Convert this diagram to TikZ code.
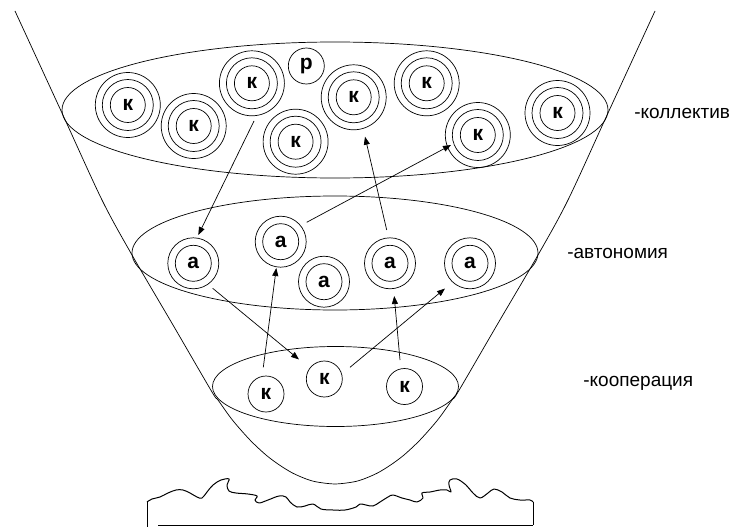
\documentclass[tikz,border=0pt]{standalone}
\usepackage{fontspec}
\setmainfont{Liberation Sans}
\usetikzlibrary{arrows.meta}
\begin{document}
\begin{tikzpicture}[x=1pt,y=-1pt,line width=0.7pt,
  ring/.style={draw,line width=0.7pt},
  kc/.style={circle,draw,line width=0.7pt,minimum size=35pt,inner sep=0pt,font=\fontsize{21}{21}\selectfont\bfseries},
  ac/.style={kc,minimum size=36pt},
  bc/.style={kc,minimum size=36pt},
  pc/.style={kc,minimum size=36pt},
  arr/.style={-{Triangle[length=8pt,width=6pt]},line width=0.7pt},
  lbl/.style={anchor=west,inner sep=0pt,font=\fontsize{19}{19}\selectfont}]
\useasboundingbox (0,0) rectangle (733,527);
% funnel
\draw plot[smooth,tension=0.5] coordinates {(15,11) (62,113) (102,200) (132,255) (173,325) (212,392) (218,400) (232.4,420) (250,440) (266,455) (279.4,465) (292.5,473) (306.3,479) (317,482) (335,484) (353,482) (363.7,479) (377.5,473) (390.6,465) (404,455) (420,440) (437.6,420) (452,400) (458,392) (497,325) (538,255) (568,200) (608,113) (655,11)};
% levels
\draw (335,110) ellipse [x radius=273pt, y radius=68pt];
\draw (335,253) ellipse [x radius=203pt, y radius=57pt];
\draw (335.5,386.5) ellipse [x radius=123pt, y radius=40pt];
% top circles
\node[kc] (k1) at (127.8,105) {к};
\node[kc] (k2) at (193.7,126) {к};
\node[kc] (k3) at (251.9,83.3) {к};
\node[pc] (p) at (306.3,66) {р};
\node[kc] (k4) at (295.6,141.7) {к};
\node[kc] (k5) at (353.7,97.3) {к};
\node[kc] (k6) at (426.7,83.3) {к};
\node[kc] (k7) at (477.8,135) {к};
\node[kc] (k8) at (557.5,113) {к};
\foreach \n in {k1,k2,k3,k4,k5,k6,k7,k8}{
  \draw[ring] (\n) circle [radius=25.5pt];
  \draw[ring] (\n) circle [radius=32.5pt];
}
% middle circles
\node[ac] (a1) at (193.3,263.3) {а};
\node[ac] (a2) at (280.7,241.7) {а};
\node[ac] (a3) at (324,281.7) {а};
\node[ac] (a4) at (390,263.3) {а};
\node[ac] (a5) at (470,263.3) {а};
\foreach \n in {a1,a2,a3,a4,a5}{
  \draw[ring] (\n) circle [radius=25.5pt];
}
% bottom circles
\node[bc] (b1) at (266,394) {к};
\node[bc] (b2) at (324.3,379) {к};
\node[bc] (b3) at (404.5,386.5) {к};
% arrows
\coordinate (s1) at (254,121); \coordinate (t1) at (198.3,235);
\coordinate (s2) at (306.7,222.3); \coordinate (t2) at (451,145);
\coordinate (s3) at (386.7,230); \coordinate (t3) at (365,136.7);
\coordinate (s4) at (212.7,288.3); \coordinate (t4) at (299,359.5);
\coordinate (s5) at (263.3,367.3); \coordinate (t5) at (276.3,268);
\coordinate (s6) at (350,367.3); \coordinate (t6) at (445,288.5);
\coordinate (s7) at (400,360); \coordinate (t7) at (394.2,296);
\foreach \i in {1,...,7}{\draw[arr] (s\i) -- (t\i);}
% labels
\node[lbl] (l1) at (634,113) {-коллектив};
\node[lbl] (l2) at (567,253) {-автономия};
\node[lbl] (l3) at (583,383) {-кооперация};
% base
\draw[line width=1pt,line join=round] plot[smooth,tension=0.6] coordinates {(147,502) (152,499) (160,497) (168,493) (176,490) (183,490) (190,493) (197,497) (202,498) (207,492) (213,485) (221,480) (229,479) (227,485) (229,491) (236,493) (248,494) (257,496) (255,500) (259,503) (268,500) (279,496) (286,497) (290,502) (297,507) (305,506) (313,504) (321,509) (333,510) (345,510) (356,507) (360,504) (366,505) (373,506) (380,502) (388,497) (393,495) (402,498) (410,500) (417,502) (423,498) (422,493) (430,492) (440,490) (447,490) (451,492) (449,485) (450,480) (457,479) (466,485) (473,493) (480,498) (488,493) (494,489) (502,492) (510,498) (520,500) (530,500) (533,502)};
\draw[line width=1pt] (147,502) -- (147,527);
\draw[line width=1pt] (533,502) -- (533,525);
\draw[line width=1pt] (158,525) -- (533,525);
\end{tikzpicture}
\end{document}
